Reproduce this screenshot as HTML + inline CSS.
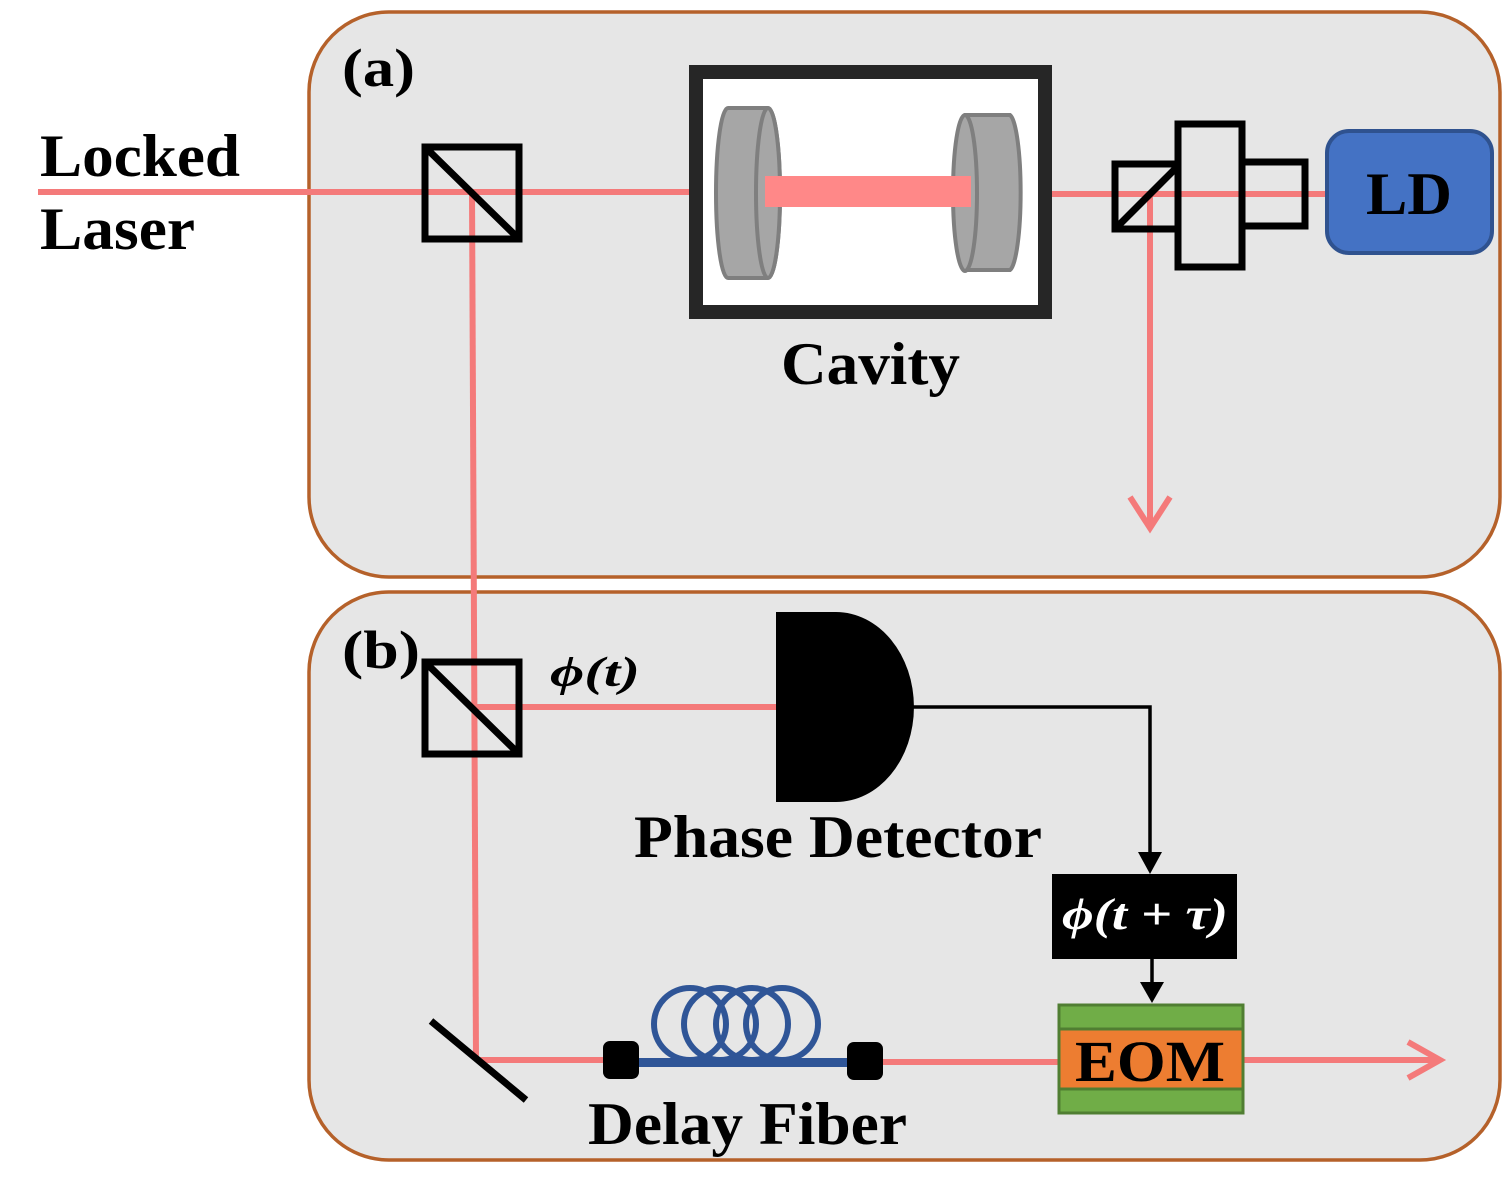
<!DOCTYPE html>
<html><head><meta charset="utf-8"><style>
html,body{margin:0;padding:0;background:#fff;}
svg{display:block;}
text{font-family:"Liberation Serif",serif;font-weight:bold;fill:#000;}
</style></head><body>
<svg width="1503" height="1198" viewBox="0 0 1503 1198" xmlns="http://www.w3.org/2000/svg">
<!-- panels -->
<rect x="309" y="12" width="1191" height="565" rx="80" fill="#e6e6e6" stroke="#b5612a" stroke-width="3.5"/>
<rect x="309" y="592" width="1191" height="568" rx="80" fill="#e6e6e6" stroke="#b5612a" stroke-width="3.5"/>

<!-- red beams -->
<g stroke="#f47a7a" stroke-width="6" fill="none">
<line x1="38" y1="192" x2="689" y2="192"/>
<line x1="1052" y1="194" x2="1325" y2="194"/>
<line x1="472" y1="192" x2="476" y2="1060"/>
<line x1="1150" y1="194" x2="1150" y2="528"/>
<polyline points="1130,497 1150,528 1170,497" stroke-width="6"/>
<line x1="472" y1="707" x2="776" y2="707"/>
<line x1="476" y1="1060" x2="605" y2="1060"/>
<line x1="880" y1="1062" x2="1058" y2="1062"/>
<line x1="1242" y1="1060" x2="1440" y2="1060"/>
<polyline points="1408,1042 1440,1060 1408,1078" stroke-width="6"/>
</g>

<!-- beam splitters -->
<g stroke="#000" stroke-width="7" fill="none">
<rect x="425" y="147" width="94" height="92"/>
<line x1="425" y1="147" x2="519" y2="239"/>
<rect x="425" y="662" width="94" height="92"/>
<line x1="425" y1="662" x2="519" y2="754"/>
<line x1="431" y1="1021" x2="526" y2="1100"/>
<rect x="1115" y="164" width="63" height="65"/>
<line x1="1118" y1="226" x2="1176" y2="168"/>
<rect x="1178" y="124" width="64" height="143"/>
<rect x="1242" y="162" width="63" height="64"/>
</g>

<!-- cavity -->
<rect x="696" y="72" width="349" height="240" fill="#fff" stroke="#262626" stroke-width="14"/>
<g stroke="#7f7f7f" stroke-width="4" fill="#a6a6a6">
<path d="M728,108 L768,108 A12,85 0 0 1 768,278 L728,278 A12,85 0 0 1 728,108 Z"/>
<ellipse cx="768" cy="193" rx="12" ry="85"/>
<path d="M965,115 L1010,115 A12,78 0 0 1 1010,270 L965,270 A12,78 0 0 1 965,115 Z"/>
<ellipse cx="965" cy="193" rx="12" ry="78"/>
</g>
<rect x="765" y="176" width="206" height="31" fill="#ff8888"/>

<!-- LD -->
<rect x="1327" y="131" width="165" height="122" rx="22" fill="#4472c4" stroke="#2f528f" stroke-width="4"/>
<text x="1366" y="214" font-size="60" textLength="86" lengthAdjust="spacingAndGlyphs">LD</text>

<!-- phase detector -->
<path d="M776,612 L836,612 A78,95 0 0 1 836,802 L776,802 Z" fill="#000"/>
<g stroke="#000" stroke-width="3.5" fill="none">
<polyline points="912,707 1150,707 1150,858"/>
<line x1="1152" y1="958" x2="1152" y2="988"/>
</g>
<polygon points="1138,852 1162,852 1150,874" fill="#000"/>
<polygon points="1140,982 1164,982 1152,1003" fill="#000"/>
<rect x="1052" y="874" width="185" height="85" fill="#000"/>
<text x="1062" y="929" font-size="44" textLength="166" lengthAdjust="spacingAndGlyphs" style="fill:#fff;font-style:italic">ϕ(t + τ)</text>

<!-- EOM -->
<rect x="1059" y="1005" width="184" height="24" fill="#70ad47" stroke="#507e32" stroke-width="3"/>
<rect x="1059" y="1089" width="184" height="24" fill="#70ad47" stroke="#507e32" stroke-width="3"/>
<rect x="1059" y="1029" width="184" height="60" fill="#ed7d31" stroke="#507e32" stroke-width="3"/>
<text x="1075" y="1081" font-size="58" textLength="150" lengthAdjust="spacingAndGlyphs">EOM</text>

<!-- fiber coil -->
<g stroke="#2f5597" stroke-width="6" fill="none">
<circle cx="690" cy="1024" r="36"/>
<circle cx="720" cy="1024" r="36"/>
<circle cx="752" cy="1024" r="36"/>
<circle cx="782" cy="1024" r="36"/>
</g>
<rect x="636" y="1058" width="222" height="9" fill="#2f5597"/>
<rect x="603" y="1041" width="36" height="38" rx="7" fill="#000"/>
<rect x="847" y="1042" width="36" height="38" rx="7" fill="#000"/>

<!-- labels -->
<text x="40" y="176" font-size="60" textLength="200" lengthAdjust="spacingAndGlyphs">Locked</text>
<text x="40" y="249" font-size="60" textLength="155" lengthAdjust="spacingAndGlyphs">Laser</text>
<text x="342" y="86" font-size="54" textLength="73" lengthAdjust="spacingAndGlyphs">(a)</text>
<text x="342" y="668" font-size="54" textLength="78" lengthAdjust="spacingAndGlyphs">(b)</text>
<text x="781" y="384" font-size="60" textLength="179" lengthAdjust="spacingAndGlyphs">Cavity</text>
<text x="634" y="857" font-size="60" textLength="408" lengthAdjust="spacingAndGlyphs">Phase Detector</text>
<text x="588" y="1144" font-size="60" textLength="319" lengthAdjust="spacingAndGlyphs">Delay Fiber</text>
<text x="550" y="686" font-size="42" textLength="90" lengthAdjust="spacingAndGlyphs" style="font-style:italic">ϕ(t)</text>
</svg>
</body></html>
